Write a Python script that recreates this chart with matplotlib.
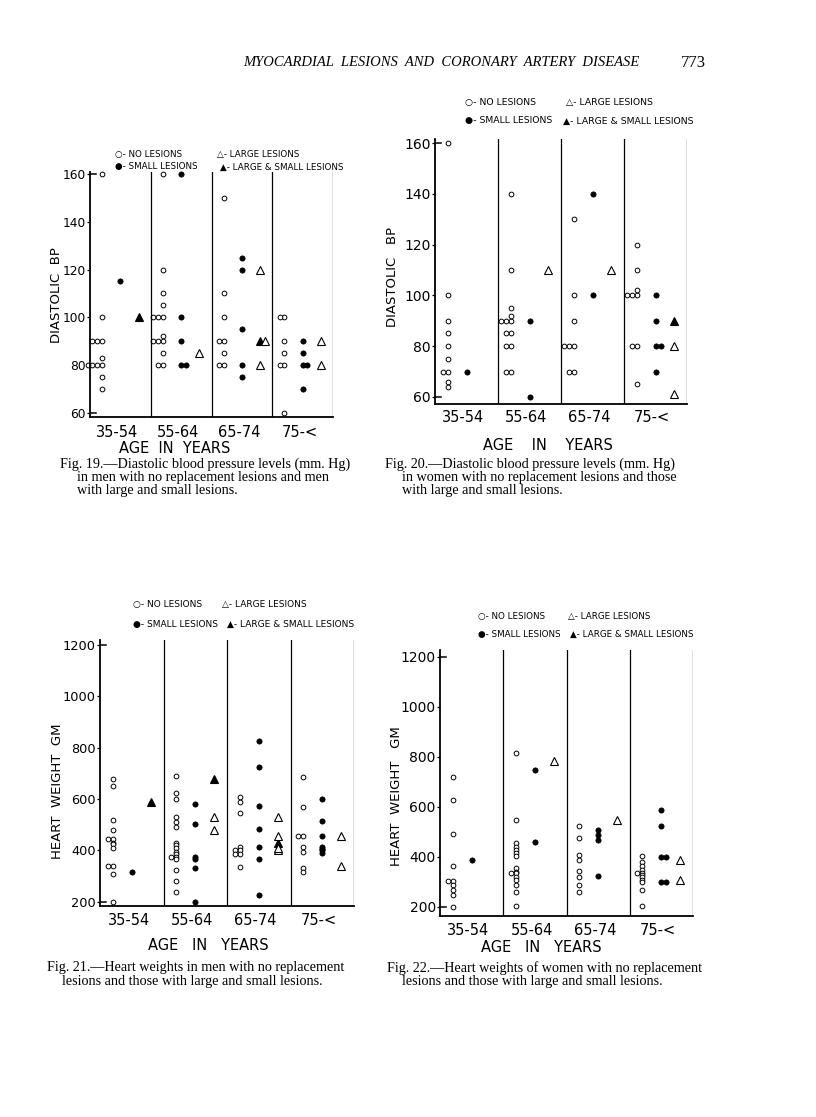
import matplotlib
matplotlib.use("Agg")
import matplotlib.pyplot as plt
from collections import Counter

W, H = 816, 1117
SANS = "DejaVu Sans"
SERIF = "Liberation Serif"

age_groups = ["35-54", "55-64", "65-74", "75-<"]

# Fig. 19 - diastolic BP, men
fig19_none = [[160, 100, 90, 90, 90, 83, 80, 80, 80, 80, 75, 70],
              [160, 120, 110, 105, 100, 100, 100, 92, 90, 90, 90, 85, 80, 80],
              [150, 110, 100, 90, 90, 85, 80, 80],
              [100, 100, 90, 85, 80, 80, 60]]
fig19_small = [[115], [160, 100, 90, 80, 80], [125, 120, 95, 80, 75], [90, 85, 80, 80, 70]]
fig19_large = [[], [85], [120, 90, 80], [90, 80]]
fig19_both = [[100], [], [90], []]

# Fig. 20 - diastolic BP, women
fig20_none = [[160, 100, 90, 85, 80, 75, 70, 70, 66, 64],
              [140, 110, 95, 92, 90, 90, 90, 85, 85, 80, 80, 70, 70],
              [130, 100, 90, 80, 80, 80, 70, 70],
              [120, 110, 102, 100, 100, 100, 80, 80, 65]]
fig20_small = [[70], [90, 60], [140, 100], [100, 90, 80, 80, 70]]
fig20_large = [[], [110], [110], [80, 61]]
fig20_both = [[], [], [], [90]]

# Fig. 21 - heart weight, men
fig21_none = [[680, 650, 520, 480, 445, 445, 430, 425, 410, 340, 340, 310, 200],
              [690, 625, 600, 530, 510, 490, 430, 420, 410, 395, 385, 375, 375, 365, 325, 280, 240],
              [610, 590, 545, 415, 400, 400, 385, 385, 335],
              [685, 570, 455, 455, 415, 395, 330, 315]]
fig21_small = [[315], [580, 505, 375, 365, 330, 200], [825, 725, 575, 485, 415, 365, 225],
               [600, 515, 455, 415, 405, 400, 390]]
fig21_large = [[], [530, 480], [530, 455, 400, 410], [455, 340]]
fig21_both = [[590], [680], [430], []]

# Fig. 22 - heart weight, women
fig22_none = [[720, 627, 493, 365, 305, 305, 290, 270, 250, 200],
              [815, 550, 455, 440, 430, 415, 405, 355, 340, 335, 335, 320, 310, 290, 260, 205],
              [525, 475, 410, 390, 345, 320, 290, 260],
              [405, 380, 365, 350, 335, 335, 330, 320, 310, 300, 270, 205]]
fig22_small = [[390], [750, 460], [510, 490, 470, 325], [590, 525, 400, 400, 300, 300]]
fig22_large = [[], [785], [550], [390, 310]]
fig22_both = [[], [], [], []]

fig = plt.figure(figsize=(W / 100, H / 100), dpi=100)


def box(x0, y0, x1, y1):
    return [x0 / W, 1 - y1 / H, (x1 - x0) / W, (y1 - y0) / H]


def draw_panel(px, ylim, yticks, ylabel, none, small, large, both, xpad, ylabpos, tsize):
    ax = fig.add_axes(box(*px))
    ax.set_xlim(0, 4)
    ax.set_ylim(*ylim)
    step = 0.08
    styles = {
        "none": dict(marker="o", ms=3.4, mfc="white", mec="black", mew=0.7),
        "small": dict(marker="o", ms=3.8, mfc="black", mec="black", mew=0.5),
        "large": dict(marker="^", ms=6, mfc="white", mec="black", mew=0.8),
        "both": dict(marker="^", ms=6, mfc="black", mec="black", mew=0.8),
    }
    for g in range(4):
        columns = [(0.2, -1, [("none", v) for v in none[g]]),
                   (0.5, 1, [("small", v) for v in small[g]]),
                   (0.8, 1, [("both", v) for v in both[g]] + [("large", v) for v in large[g]])]
        for col, sign, items in columns:
            seen = Counter()
            for kind, v in items:
                k = seen[v]
                seen[v] += 1
                ax.plot(g + col + sign * k * step, v, linestyle="none", clip_on=False,
                        **styles[kind])
    for x in [1, 2, 3, 4]:
        ax.axvline(x, color="black", lw=0.9)
    for s in ["top", "right"]:
        ax.spines[s].set_visible(False)
    ax.spines["left"].set_linewidth(1.3)
    ax.spines["bottom"].set_linewidth(1.3)
    # bracket serifs on the y axis
    for yv in (yticks[0], yticks[-1]):
        ax.axhline(yv, xmin=0, xmax=0.025, color="black", lw=1.1)
    ax.set_yticks(yticks)
    ax.set_yticklabels([str(t) for t in yticks], fontfamily=SANS, fontsize=tsize)
    ax.tick_params(axis="y", length=2.5, width=0.9, pad=0.5)
    ax.set_xticks([0.45, 1.45, 2.45, 3.45])
    ax.set_xticklabels(age_groups, fontfamily=SANS, fontsize=10.5)
    ax.tick_params(axis="x", length=0, pad=xpad)
    fig.text(ylabpos[0] / W, 1 - ylabpos[1] / H, ylabel, rotation=90, ha="center",
             va="center", fontfamily=SANS, fontsize=9.5)
    return ax


def legend(x1, x2, y1, y2, size, second_x=None):
    kw = dict(fontfamily=SANS, fontsize=size, va="center", ha="left")
    fig.text(x1 / W, 1 - y1 / H, "○- NO LESIONS", **kw)
    fig.text(x2 / W, 1 - y1 / H, "△- LARGE LESIONS", **kw)
    fig.text(x1 / W, 1 - y2 / H, "●- SMALL LESIONS", **kw)
    fig.text((second_x or x2) / W, 1 - y2 / H, "▲- LARGE & SMALL LESIONS", **kw)


def label(x, y, s, **kw):
    fig.text(x / W, 1 - y / H, s, **kw)


# page header
label(441, 63, "MYOCARDIAL  LESIONS  AND  CORONARY  ARTERY  DISEASE", ha="center",
      va="center", fontfamily=SERIF, fontstyle="italic", fontsize=10.5)
label(693, 63, "773", ha="center", va="center", fontfamily=SERIF, fontsize=12)

# Fig 19
draw_panel((90, 172, 333, 417), (58.3, 160.8), [60, 80, 100, 120, 140, 160], "DIASTOLIC  BP",
           fig19_none, fig19_small, fig19_large, fig19_both, 6, (56, 295), 8.8)
legend(115, 217, 155, 167, 6.3, 220)
label(175, 448, "AGE  IN  YEARS", ha="center", va="center", fontfamily=SANS, fontsize=10.5)

# Fig 20
draw_panel((435, 139, 687, 404), (57.2, 161.6), [60, 80, 100, 120, 140, 160], "DIASTOLIC   BP",
           fig20_none, fig20_small, fig20_large, fig20_both, 4, (392, 277), 10)
legend(465, 566, 102, 121, 6.7, 563)
label(548, 445, "AGE    IN    YEARS", ha="center", va="center", fontfamily=SANS, fontsize=10.5)

# Fig 21
draw_panel((100, 640, 354, 906), (184, 1219), [200, 400, 600, 800, 1000, 1200], "HEART  WEIGHT  GM",
           fig21_none, fig21_small, fig21_large, fig21_both, 5, (58, 791), 9.3)
legend(133, 222, 605, 624, 6.5, 227)
label(208, 946, "AGE   IN   YEARS", ha="center", va="center", fontfamily=SANS, fontsize=10.5)

# Fig 22
draw_panel((440, 650, 693, 916), (164, 1228), [200, 400, 600, 800, 1000, 1200], "HEART  WEIGHT   GM",
           fig22_none, fig22_small, fig22_large, fig22_both, 5, (396, 796), 10)
legend(478, 568, 617, 634, 6.3, 570)
label(541, 947, "AGE   IN   YEARS", ha="center", va="center", fontfamily=SANS, fontsize=10.5)

# captions
cap = dict(fontfamily=SERIF, fontsize=10.2, va="center", ha="left")
label(60, 464, "Fig. 19.—Diastolic blood pressure levels (mm. Hg)", **cap)
label(77, 477, "in men with no replacement lesions and men", **cap)
label(77, 491, "with large and small lesions.", **cap)
label(385, 464, "Fig. 20.—Diastolic blood pressure levels (mm. Hg)", **cap)
label(402, 477, "in women with no replacement lesions and those", **cap)
label(402, 491, "with large and small lesions.", **cap)
label(47, 968, "Fig. 21.—Heart weights in men with no replacement", **cap)
label(62, 982, "lesions and those with large and small lesions.", **cap)
label(387, 968, "Fig. 22.—Heart weights of women with no replacement", **cap)
label(402, 982, "lesions and those with large and small lesions.", **cap)

fig.savefig("out.png", dpi=100, facecolor="white")
